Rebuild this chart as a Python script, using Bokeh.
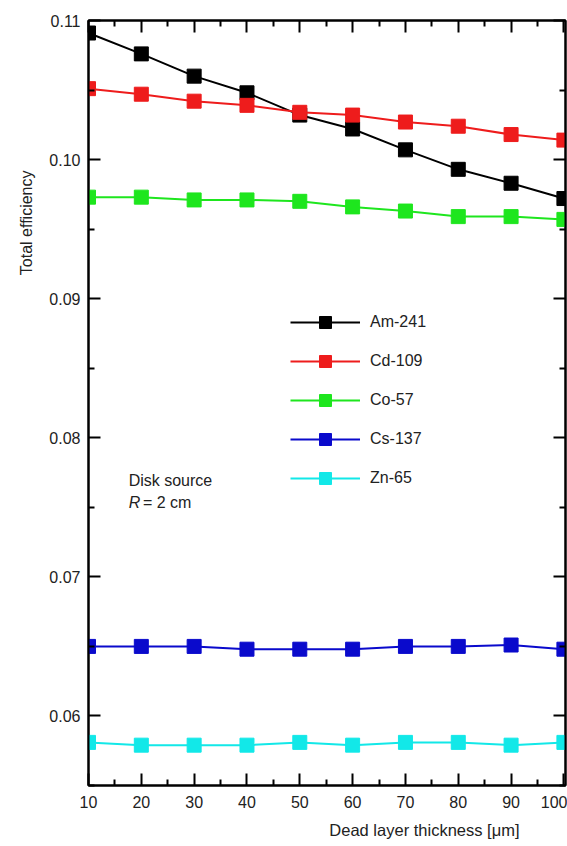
from bokeh.plotting import figure
from bokeh.models import (LinearAxis, FixedTicker, PrintfTickFormatter, Range1d, Legend,
                          LegendItem, Label, Title)
from bokeh.embed import file_html
from bokeh.resources import INLINE

thickness = [10, 20, 30, 40, 50, 60, 70, 80, 90, 100]
am241 = [0.1091, 0.1076, 0.1060, 0.1048, 0.1032, 0.1022, 0.1007, 0.0993, 0.0983, 0.0972]
cd109 = [0.1051, 0.1047, 0.1042, 0.1039, 0.1034, 0.1032, 0.1027, 0.1024, 0.1018, 0.1014]
co57 = [0.0973, 0.0973, 0.0971, 0.0971, 0.0970, 0.0966, 0.0963, 0.0959, 0.0959, 0.0957]
cs137 = [0.0650, 0.0650, 0.0650, 0.0648, 0.0648, 0.0648, 0.0650, 0.0650, 0.0651, 0.0648]
zn65 = [0.0581, 0.0579, 0.0579, 0.0579, 0.0581, 0.0579, 0.0581, 0.0581, 0.0579, 0.0581]

series_names = ["Am-241", "Cd-109", "Co-57", "Cs-137", "Zn-65"]
series_values = [am241, cd109, co57, cs137, zn65]
series_colors = ["#000000", "#ee1c1c", "#1ee61e", "#0a0acc", "#12e8e8"]

x_ticks = [10, 20, 30, 40, 50, 60, 70, 80, 90, 100]
x_minor = [15, 25, 35, 45, 55, 65, 75, 85, 95]
y_ticks = [0.06, 0.07, 0.08, 0.09, 0.10, 0.11]
y_minor = [0.055, 0.065, 0.075, 0.085, 0.095, 0.105]

FONT = "Liberation Sans"
FS = "16px"

p = figure(width=567, height=846, output_backend="svg", toolbar_location=None,
           x_range=Range1d(10, 100.3), y_range=Range1d(0.0550, 0.1100),
           x_axis_type=None, y_axis_type=None,
           min_border_left=88, min_border_right=2, min_border_top=20, min_border_bottom=61)
p.grid.visible = False
p.outline_line_color = "black"
p.outline_line_width = 2
p.background_fill_color = "white"
p.border_fill_color = "white"

xt = FixedTicker(ticks=x_ticks, minor_ticks=x_minor)
yt = FixedTicker(ticks=y_ticks, minor_ticks=y_minor)


def style(ax, labels=True):
    ax.axis_line_color = "black"
    ax.axis_line_width = 2
    ax.major_tick_in = 12
    ax.major_tick_out = 0
    ax.minor_tick_in = 6
    ax.minor_tick_out = 0
    ax.major_tick_line_width = 2
    ax.minor_tick_line_width = 2
    ax.major_label_text_font = FONT
    ax.major_label_text_font_size = FS
    ax.major_label_text_color = "#222222"
    if not labels:
        ax.major_label_text_font_size = "0px"
        ax.major_label_text_alpha = 0


xb = LinearAxis(ticker=xt)
style(xb)
xb.major_label_standoff = 10
p.add_layout(xb, "below")
xa = LinearAxis(ticker=xt)
style(xa, labels=False)
p.add_layout(xa, "above")
yl = LinearAxis(ticker=yt, formatter=PrintfTickFormatter(format="%.2f"))
style(yl)
yl.major_label_standoff = 8
p.add_layout(yl, "left")
yr = LinearAxis(ticker=yt)
style(yr, labels=False)
p.add_layout(yr, "right")

p.add_layout(Title(text="Total efficiency", align="right", offset=150, standoff=24, text_font=FONT,
                   text_font_size=FS, text_font_style="normal", text_color="#222222"), "left")
p.add_layout(Title(text="Dead layer thickness [\u03bcm]", align="right", offset=46, standoff=16,
                   text_font=FONT, text_font_size="16.5px", text_font_style="normal",
                   text_color="#222222"), "below")

items = []
for name, vals, col in zip(series_names, series_values, series_colors):
    r1 = p.line(thickness, vals, line_color=col, line_width=2)
    r2 = p.scatter(thickness, vals, marker="square", size=14, fill_color=col, line_color=col)
    items.append(LegendItem(label=name, renderers=[r1, r2]))

legend = Legend(items=items, location=(202, 292), border_line_color=None,
                background_fill_alpha=0, padding=0, margin=0, spacing=9,
                glyph_width=70, glyph_height=30, label_height=30, label_standoff=10,
                label_text_font=FONT, label_text_font_size=FS, label_text_color="#222222")
p.add_layout(legend)

p.add_layout(Label(x=17.6, y=0.0769, text="Disk source", text_font=FONT, text_font_size=FS,
                   text_baseline="middle", text_color="#222222"))
p.add_layout(Label(x=17.6, y=0.07535, text="R", text_font=FONT, text_font_size=FS,
                   text_font_style="italic", text_baseline="middle", text_color="#222222"))
p.add_layout(Label(x=20.3, y=0.07535, text="= 2 cm", text_font=FONT, text_font_size=FS,
                   text_baseline="middle", text_color="#222222"))

open("out.html", "w").write(file_html(p, INLINE))
